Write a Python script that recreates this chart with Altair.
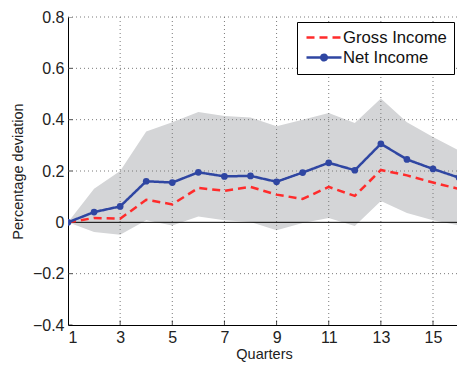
import altair as alt
import pandas as pd

# Impulse responses by quarter, with a confidence band around net income
quarters = list(range(1, 17))
gross_income = [0.0, 0.017, 0.014, 0.088, 0.070, 0.134, 0.123, 0.138,
                0.108, 0.091, 0.138, 0.103, 0.204, 0.183, 0.155, 0.130]
net_income = [0.0, 0.040, 0.062, 0.160, 0.155, 0.195, 0.179, 0.181,
              0.158, 0.194, 0.232, 0.203, 0.306, 0.245, 0.208, 0.174]
band_lower = [0.0, -0.038, -0.048, 0.008, -0.012, 0.023, 0.008, 0.001,
              -0.031, -0.003, 0.017, -0.014, 0.083, 0.036, 0.008, -0.012]
band_upper = [0.0, 0.131, 0.200, 0.354, 0.390, 0.430, 0.414, 0.408,
              0.374, 0.400, 0.426, 0.387, 0.482, 0.390, 0.332, 0.280]

series_names = ["Gross Income", "Net Income"]
x_ticks = [1, 3, 5, 7, 9, 11, 13, 15]
y_ticks = [-0.4, -0.2, 0, 0.2, 0.4, 0.6, 0.8]
x_grid = [3, 5, 7, 9, 11, 13, 15]
y_grid = [-0.2, 0.2, 0.4, 0.6, 0.8]

BLUE = "#2f46a2"
RED = "#ff2b2b"
BAND = "#d4d5d7"
FONT = "Liberation Sans"

# legend glyphs: a long stroke, and a long stroke with a dot in the middle
# (drawn wider than the layout symbol size so rows stay compact)
LONG_LINE = "M-2.5,0L2.5,0"
LONG_LINE_WITH_DOT = ("M-2.5,0L2.5,0M0.4,0A0.4,0.4,0,1,1,-0.4,0"
                      "A0.4,0.4,0,1,1,0.4,0Z")

band_df = pd.DataFrame({"q": quarters, "lo": band_lower, "hi": band_upper})
lines_df = pd.concat([
    pd.DataFrame({"q": quarters, "v": gross_income, "series": series_names[0]}),
    pd.DataFrame({"q": quarters, "v": net_income, "series": series_names[1]}),
])
net_df = pd.DataFrame({"q": quarters, "v": net_income, "series": series_names[1]})

x_scale = alt.Scale(domain=[1, 15.92], nice=False, zero=False)
y_scale = alt.Scale(domain=[-0.4, 0.8], nice=False)
color_scale = alt.Scale(domain=series_names, range=[RED, BLUE])

x_axis = alt.Axis(values=x_ticks, grid=False, ticks=False, labelFontSize=16,
                  labelPadding=4, labelFont=FONT, domainColor="black",
                  labelColor="#222", title="Quarters", titleFont=FONT,
                  titleFontSize=14.5, titleFontWeight="normal", titleColor="#222",
                  titleX=196, titleY=22, titleBaseline="top", titleAnchor="middle")
y_axis = alt.Axis(values=y_ticks, grid=False, ticks=False, labelFontSize=16,
                  labelPadding=4, labelFont=FONT, domainColor="black",
                  labelColor="#222", format="~g", title="Percentage deviation",
                  titleFont=FONT, titleFontSize=14.5, titleFontWeight="normal",
                  titleColor="#222", titleX=-50, titleY=154, titleAngle=270,
                  titleAlign="center", titleBaseline="middle")

band = alt.Chart(band_df).mark_area(color=BAND, opacity=1, clip=True).encode(
    x=alt.X("q:Q", scale=x_scale, axis=x_axis),
    y=alt.Y("lo:Q", scale=y_scale, axis=y_axis),
    y2="hi:Q",
)

grid_style = dict(color="#7a7a7a", strokeDash=[1, 3], strokeWidth=1)
vgrid = alt.Chart(pd.DataFrame({"q": x_grid})).mark_rule(**grid_style).encode(
    x=alt.X("q:Q", scale=x_scale))
hgrid = alt.Chart(pd.DataFrame({"v": y_grid})).mark_rule(**grid_style).encode(
    y=alt.Y("v:Q", scale=y_scale))

# inward-pointing tick marks: centred on the axis line, outer half clipped away
x_tickmarks = alt.Chart(pd.DataFrame({"q": x_ticks, "v": [-0.4] * len(x_ticks)})).mark_tick(
    orient="vertical", size=9, thickness=1, color="black", clip=True).encode(
    x=alt.X("q:Q", scale=x_scale), y=alt.Y("v:Q", scale=y_scale))
y_tickmarks = alt.Chart(pd.DataFrame({"q": [1] * len(y_ticks), "v": y_ticks})).mark_tick(
    orient="horizontal", size=9, thickness=1, color="black", clip=True).encode(
    x=alt.X("q:Q", scale=x_scale), y=alt.Y("v:Q", scale=y_scale))

zero = alt.Chart(pd.DataFrame({"v": [0]})).mark_rule(color="black", strokeWidth=1).encode(
    y=alt.Y("v:Q", scale=y_scale))

legend = alt.Legend(
    title=None, orient="none", legendX=229, legendY=5,
    symbolSize=196, symbolStrokeWidth=2.5, symbolOffset=11.5,
    labelFont=FONT, labelFontSize=16.7, labelColor="#111", labelOffset=10.5,
    fillColor="white", strokeColor="black", padding=7, rowPadding=2,
    cornerRadius=0,
)

lines = alt.Chart(lines_df).mark_line(strokeWidth=2.5, clip=True).encode(
    x=alt.X("q:Q", scale=x_scale),
    y=alt.Y("v:Q", scale=y_scale),
    color=alt.Color("series:N", scale=color_scale, legend=legend),
    strokeDash=alt.StrokeDash("series:N",
                              scale=alt.Scale(domain=series_names, range=[[8, 5], [1, 0]]),
                              legend=legend),
)

# markers on the net income line
points = alt.Chart(net_df).mark_circle(color=BLUE, size=45, opacity=1, clip=True).encode(
    x=alt.X("q:Q", scale=x_scale),
    y=alt.Y("v:Q", scale=y_scale),
)

# empty layer that only feeds the legend glyph shapes
legend_shapes = alt.Chart(net_df).transform_filter("false").mark_point(
    filled=True, opacity=1).encode(
    x=alt.X("q:Q", scale=x_scale),
    y=alt.Y("v:Q", scale=y_scale),
    color=alt.Color("series:N", scale=color_scale, legend=legend),
    shape=alt.Shape("series:N",
                    scale=alt.Scale(domain=series_names,
                                    range=[LONG_LINE, LONG_LINE_WITH_DOT]),
                    legend=legend),
)

chart = alt.layer(band, vgrid, hgrid, x_tickmarks, y_tickmarks, zero, lines, points,
                  legend_shapes).properties(
    width=389, height=308,
    autosize=alt.AutoSizeParams(type="none"),
    padding={"left": 68, "top": 17, "right": 0, "bottom": 40},
    background="white",
).configure_view(stroke=None)

chart.save("out.html", embed_options={"renderer": "svg", "actions": False})
